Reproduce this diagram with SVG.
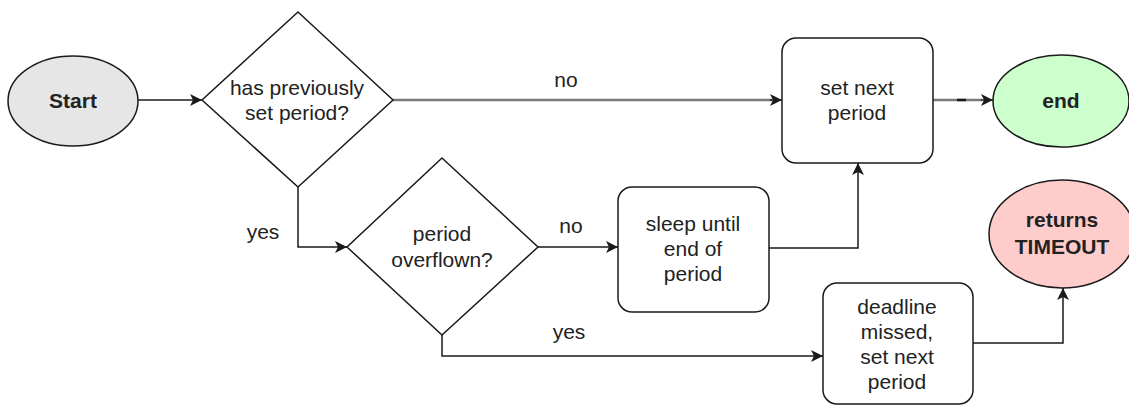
<svg xmlns="http://www.w3.org/2000/svg" width="1129" height="405" viewBox="0 0 1129 405">
  <style>
    .shape { stroke: #1a1a1a; stroke-width: 1.5; }
    .box { fill: #ffffff; }
    .lbl { font-family: "Liberation Sans", Arial, sans-serif; font-size: 21px; fill: #222222; text-anchor: middle; }
    .bold { font-weight: bold; }
    .edge { fill: none; stroke: #1a1a1a; stroke-width: 1.5; }
    .edge-soft { fill: none; stroke: #7a7a7a; stroke-width: 2.5; }
  </style>
  <defs>
    <marker id="arrow" viewBox="0 0 10 10" refX="10" refY="5" markerWidth="13" markerHeight="12" markerUnits="userSpaceOnUse" orient="auto">
      <path d="M0,0 L10,5 L0,10 L2.5,5 Z" fill="#1a1a1a"/>
    </marker>
  </defs>

  <rect width="1129" height="405" fill="#ffffff"/>

  <!-- connectors -->
  <g id="connectors">
    <path class="edge" d="M138,100 H202" marker-end="url(#arrow)"/>
    <path class="edge-soft" d="M393,100 H772"/>
    <path class="edge" d="M770,100 H782" marker-end="url(#arrow)"/>
    <path class="edge-soft" d="M933,100 H982"/>
    <path d="M957,100 H966" stroke="#1a1a1a" stroke-width="2.5"/>
    <path class="edge" d="M981,100 H993" marker-end="url(#arrow)"/>
    <path class="edge" d="M298,187 V247 H347" marker-end="url(#arrow)"/>
    <path class="edge" d="M538,247 H618" marker-end="url(#arrow)"/>
    <path class="edge" d="M769,248 H858 V163" marker-end="url(#arrow)"/>
    <path class="edge" d="M442,335 V356 H823" marker-end="url(#arrow)"/>
    <path class="edge" d="M973,343 H1063 V288" marker-end="url(#arrow)"/>
    <text class="lbl" x="566" y="87">no</text>
    <text class="lbl" x="263" y="239">yes</text>
    <text class="lbl" x="571" y="233">no</text>
    <text class="lbl" x="569" y="339">yes</text>
  </g>

  <g id="start">
    <ellipse class="shape" cx="73" cy="101" rx="65" ry="45" fill="#e6e6e6"/>
    <text class="lbl bold" x="73" y="108">Start</text>
  </g>

  <g id="has-previous">
    <polygon class="shape box" points="298,12 393,100 298,187 202,100"/>
    <text class="lbl" x="297" y="95">has previously</text>
    <text class="lbl" x="297" y="120">set period?</text>
  </g>

  <g id="set-next">
    <rect class="shape box" x="782" y="38" width="151" height="125" rx="14"/>
    <text class="lbl" x="857" y="95">set next</text>
    <text class="lbl" x="857" y="120">period</text>
  </g>

  <g id="end">
    <ellipse class="shape" cx="1061" cy="101" rx="68" ry="46" fill="#ccffcc"/>
    <text class="lbl bold" x="1061" y="108">end</text>
  </g>

  <g id="overflown">
    <polygon class="shape box" points="442,158 538,247 442,335 347,247"/>
    <text class="lbl" x="442" y="241">period</text>
    <text class="lbl" x="442" y="267">overflown?</text>
  </g>

  <g id="sleep">
    <rect class="shape box" x="618" y="187" width="151" height="125" rx="14"/>
    <text class="lbl" x="693" y="231">sleep until</text>
    <text class="lbl" x="693" y="256">end of</text>
    <text class="lbl" x="693" y="281">period</text>
  </g>

  <g id="deadline">
    <rect class="shape box" x="823" y="283" width="150" height="121" rx="14"/>
    <text class="lbl" x="897" y="314">deadline</text>
    <text class="lbl" x="897" y="339">missed,</text>
    <text class="lbl" x="897" y="364">set next</text>
    <text class="lbl" x="897" y="389">period</text>
  </g>

  <g id="timeout">
    <ellipse class="shape" cx="1062" cy="234" rx="73" ry="54" fill="#ffcccc"/>
    <text class="lbl bold" x="1062" y="227">returns</text>
    <text class="lbl bold" x="1062" y="254">TIMEOUT</text>
  </g>
</svg>
